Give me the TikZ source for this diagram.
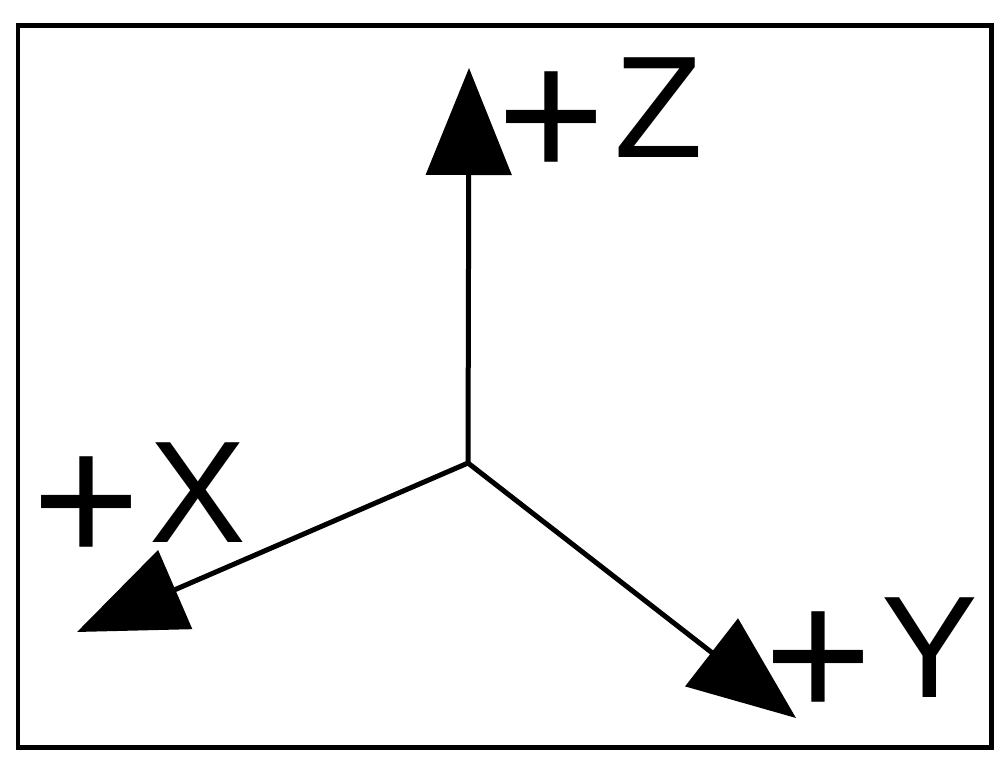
\documentclass[tikz,border=0pt]{standalone}
\usepackage{fontspec}
\setmainfont{Liberation Sans}
\usetikzlibrary{arrows.meta}
\newcommand{\bigplus}{{\fontsize{185}{185}\selectfont\raisebox{-21pt}{+}}}
\tikzset{
  axis/.style={line width=5pt, -{Triangle[length=107pt,width=85pt]}},
  frame/.style={line width=4.5pt},
  lbl/.style={inner sep=0pt, anchor=base west, font=\fontsize{145}{145}\selectfont}
}
\begin{document}
\begin{tikzpicture}[x=1pt,y=-1pt]
\useasboundingbox (0,0) rectangle (1008,776);
\draw[frame] (18,25.5) rectangle (991.5,747.5);
\coordinate (O) at (468,463);
\coordinate (Z) at (469,68);
\coordinate (X) at (77,632);
\coordinate (Y) at (796,718);
\draw[axis] (O) -- (Z);
\draw[axis] (O) -- (X);
\draw[axis] (O) -- (Y);
\node[lbl] (lz) at (497,157) {\bigplus\kern9pt Z};
\node[lbl] (lx) at (32,542) {\bigplus\kern9pt X};
\node[lbl] (ly) at (764,697) {\bigplus\kern9pt Y};
\end{tikzpicture}
\end{document}
